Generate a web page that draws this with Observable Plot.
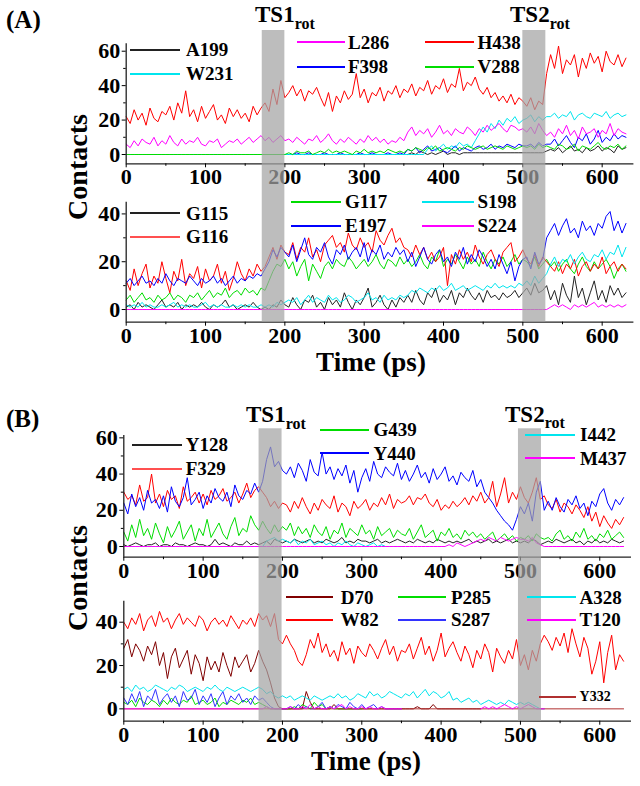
<!DOCTYPE html>
<html><head><meta charset="utf-8">
<script src="https://cdn.jsdelivr.net/npm/d3@7"></script>
<script src="https://cdn.jsdelivr.net/npm/@observablehq/plot@0.6"></script>
<style>
body{margin:0;background:#fff;}
#fig{position:relative;width:640px;height:786px;overflow:hidden;font-family:"Liberation Serif","Times New Roman",serif;font-weight:bold;color:#000;}
.abs{position:absolute;white-space:nowrap;line-height:1;}
.sw{position:absolute;height:2px;}
</style></head>
<body><div id="fig"></div>
<script>
// ---------- data (time step 5 ps, t = 0..630) ----------
const STEP = 5;
const xTicks = [0,100,200,300,400,500,600];
const xMinor = [50,150,250,350,450,550];
const bandsA = [[171.5,200],[500,529]];
const bandsB = [[170.5,199.5],[497.5,526.5]];

// Panel A, upper
const A199 = [
0,0,0,0,0,0,0,0,0,0,0,0,0,0,0,0,0,0,0,0,0,0,0,0,0,0,0,0,0,0,0,0,0,0,0,
0,0,0,0,0,0,
0,0,0,0,0,0,0,0,0,0,0,0,0,0,0,0,0,0,0,0,0,0,0,0,0,0,0,0,0,0,
0,1,0,2,1,0,1,0,1,2,0,1,1,0,1,1,1,1,1,1,1,1,1,1,1,1,1,1,1,1,
1,1,1,1,1,2,
3,2,4,1,3,5,2,3,1,4,2,3,5,2,4,3,1,5,3,4];
const W231 = [
0,0,0,0,0,0,0,0,0,0,0,0,0,0,0,0,0,0,0,0,0,0,0,0,0,0,0,0,0,0,0,0,0,0,0,
0,0,0,0,0,0,
0,0,0,0,0,0,0,0,0,0,0,0,0,0,0,0,0,0,0,0,0,0,0,0,0,0,0,0,0,0,
0,0,0,0,0,3,5,2,4,6,3,5,4,7,5,6,4,8,12,16,13,18,15,20,17,21,19,22,18,20,
21,23,19,22,20,22,
22,24,21,23,22,25,20,23,24,22,21,24,23,22,25,21,23,24,22,23];
const L286 = [
6,4,8,5,9,7,6,10,5,8,6,11,7,5,9,6,8,7,10,6,5,8,7,9,4,6,8,7,9,6,8,10,7,9,11,
8,10,7,9,11,8,
9,7,10,8,6,9,8,11,7,9,12,8,6,9,7,10,8,6,9,7,11,8,10,7,9,6,8,7,10,8,
13,16,11,14,12,15,10,13,17,12,14,11,15,13,12,16,14,11,15,13,17,14,16,18,15,13,17,16,14,15,
13,16,12,18,14,11,
13,10,15,12,17,11,14,9,16,12,13,15,10,14,12,18,11,15,13,12];
const H438 = [
22,18,26,20,24,17,27,21,19,25,23,28,20,30,24,37,22,26,19,28,21,25,29,20,23,18,27,22,26,21,24,19,28,23,27,
30,25,38,29,43,33,
36,40,34,38,31,37,35,39,33,28,36,25,34,30,37,32,35,47,33,38,30,36,34,39,31,37,35,40,33,38,
36,41,34,39,37,43,35,40,38,44,36,41,39,50,37,42,40,45,38,35,39,33,36,31,34,30,35,29,33,31,
28,33,26,31,29,47,
58,50,63,47,55,52,58,45,56,50,59,53,57,48,60,54,52,58,51,56];
const F398 = [
0,0,0,0,0,0,0,0,0,0,0,0,0,0,0,0,0,0,0,0,0,0,0,0,0,0,0,0,0,0,0,0,0,0,0,
0,0,0,0,0,0,
0,0,1,0,0,1,0,0,0,1,0,0,0,1,0,0,0,0,1,0,0,1,0,0,0,1,0,0,1,0,
3,2,4,1,3,5,2,3,4,2,1,3,5,2,4,3,2,4,5,3,4,6,3,5,4,6,5,4,6,5,
5,6,4,7,5,6,
6,9,5,8,11,7,4,10,8,12,6,9,14,7,10,8,12,9,11,10];
const V288 = [
0,0,0,0,0,0,0,0,0,0,0,0,0,0,0,0,0,0,0,0,0,0,0,0,0,0,0,0,0,0,0,0,0,0,0,
0,0,0,0,0,0,
1,0,2,1,1,2,0,1,2,1,3,1,2,1,2,1,0,2,1,3,1,2,1,2,1,3,2,1,2,1,
3,2,4,3,2,4,3,5,2,3,4,3,2,4,3,5,4,3,4,5,3,4,5,4,3,5,4,3,4,5,
4,5,3,6,4,5,
4,3,6,5,3,4,6,2,5,4,3,5,7,4,3,5,4,6,3,5];

// Panel A, lower
const G115 = [
1,2,0,3,1,2,1,0,2,4,1,2,1,3,0,2,1,2,1,3,1,0,2,1,2,4,1,2,0,1,2,1,3,1,0,
1,0,2,1,4,2,
1,5,2,0,4,3,6,1,3,0,5,2,4,1,7,3,0,4,2,5,9,1,3,6,2,0,4,1,5,3,
6,3,8,4,2,7,5,9,3,6,4,8,2,7,5,9,6,4,7,3,8,5,6,4,7,5,6,8,5,7,
9,6,11,7,8,10,
4,8,2,11,6,3,14,5,9,2,7,12,4,8,3,10,6,9,5,7];
const G116 = [
12,8,17,10,15,19,9,14,11,20,13,7,16,12,21,10,15,13,18,9,17,12,14,19,11,16,8,13,20,15,12,17,14,19,16,
18,22,26,21,27,24,
23,28,21,26,24,30,22,25,20,27,29,31,26,28,24,32,27,25,30,26,28,24,33,29,27,31,34,28,30,26,
25,22,27,23,26,21,24,20,22,26,10,23,19,25,21,24,20,27,22,19,23,25,21,18,24,26,28,20,22,25,
21,19,23,18,22,20,
18,16,20,15,19,17,21,14,18,20,16,19,17,22,15,18,20,16,19,17];
const G117 = [
4,6,3,5,7,4,5,3,6,4,5,7,4,6,5,3,6,5,7,4,6,8,5,7,6,9,5,7,8,6,9,7,8,6,9,
8,12,16,19,18,21,
17,20,14,18,21,12,19,16,13,18,20,17,21,19,18,22,20,17,19,21,18,20,23,19,17,21,20,18,22,19,
21,18,20,23,19,17,22,20,25,18,21,19,23,20,17,22,19,21,18,24,20,17,21,19,22,18,20,23,19,21,
20,18,22,17,19,21,
18,20,16,19,21,17,15,19,22,18,16,20,17,19,21,18,13,17,19,16];
const E197 = [
11,13,10,12,14,11,12,10,13,11,15,12,10,13,12,11,14,12,10,13,11,12,14,11,13,10,12,14,11,13,12,14,13,15,14,
17,20,25,22,26,24,
22,27,20,25,30,23,21,26,24,28,22,19,25,23,27,21,24,26,22,28,20,25,23,27,21,24,22,26,23,25,
20,24,18,22,26,21,19,23,25,20,22,18,24,21,26,19,23,20,25,22,18,21,17,23,19,15,20,12,18,21,
22,17,24,19,21,30,
33,36,31,35,38,32,34,30,37,33,35,31,36,34,39,41,33,37,32,36];
const S198 = [
2,1,2,1,3,1,2,1,1,2,1,2,3,1,2,1,2,1,1,2,3,1,2,1,2,1,1,2,1,2,1,2,1,1,2,
1,2,1,3,2,3,
4,3,5,2,4,6,3,5,4,3,6,4,5,3,4,6,5,3,4,5,7,4,5,3,6,4,5,4,6,5,
6,8,7,9,8,7,9,8,10,8,9,11,8,9,10,8,9,10,9,8,10,9,11,9,10,9,10,9,11,10,
12,10,14,11,13,15,
19,22,18,21,20,23,19,22,24,21,20,23,22,25,21,24,23,27,22,26];
const S224 = [
0,0,0,0,0,0,0,0,0,0,0,0,0,0,0,0,0,0,0,0,0,0,0,0,0,0,0,0,0,0,0,0,0,0,0,
0,0,0,0,0,0,
0,0,0,0,0,0,0,0,0,0,0,0,0,0,0,0,0,0,0,0,0,0,0,0,0,0,0,0,0,0,
0,0,0,0,0,0,0,0,0,0,0,0,0,0,0,0,0,0,0,0,0,0,0,0,0,0,0,0,0,0,
0,0,0,0,0,0,
1,2,1,2,1,0,2,1,2,1,2,3,1,2,1,2,1,2,1,2];

// Panel B, upper
const Y128 = [
1,0,1,2,1,0,1,1,2,0,1,1,0,2,1,1,0,1,2,1,1,0,1,4,1,2,1,0,2,1,1,3,1,2,1,
2,3,1,4,3,2,
3,2,4,3,2,3,4,2,3,2,4,3,2,3,5,2,3,2,4,3,3,2,3,4,2,3,2,3,4,3,
2,3,2,4,3,2,3,2,4,3,2,3,2,3,2,3,4,2,3,2,3,4,2,3,2,3,4,2,3,2,
3,2,4,3,1,2,
3,2,4,3,2,3,4,2,3,1,3,2,4,2,3,2,4,3,2,3];
const F329 = [
30,26,28,23,34,25,27,40,24,29,22,31,26,28,21,33,25,27,30,24,29,23,31,26,28,32,25,27,30,24,29,35,27,31,33,
30,27,22,25,21,24,
23,19,25,21,27,22,18,24,20,26,23,21,28,19,24,22,17,25,21,23,26,20,24,22,27,23,29,21,26,24,
25,28,23,27,26,29,24,22,26,20,23,21,25,22,24,27,23,28,25,30,24,27,36,22,29,38,24,30,26,33,
27,24,30,38,26,28,
23,21,26,19,24,22,18,23,20,16,22,14,19,11,17,13,10,15,12,16];
const G439 = [
8,3,12,5,15,6,10,4,13,7,2,11,5,9,14,4,8,12,3,10,6,15,5,9,13,7,4,11,16,6,10,8,17,12,9,
14,10,7,12,8,11,
9,13,6,11,7,10,5,12,8,6,11,4,9,7,13,5,10,8,6,12,7,9,4,11,6,8,10,5,9,7,
6,10,4,8,12,5,7,9,3,8,6,10,5,7,4,9,6,8,5,7,4,6,8,3,5,7,4,6,3,5,
4,6,3,7,5,4,
5,3,7,9,4,6,3,8,5,10,4,6,3,7,5,9,4,6,8,5];
const Y440 = [
24,18,29,22,27,20,31,24,26,21,28,19,33,25,22,27,38,23,26,30,21,28,24,32,27,25,30,22,34,28,26,31,29,35,30,
36,48,55,44,47,42,
40,44,38,46,42,36,48,41,39,52,40,44,37,43,39,45,35,42,30,38,43,36,47,40,38,44,41,39,46,37,
42,36,40,45,38,41,35,43,37,40,44,36,39,34,41,38,36,42,33,37,30,27,24,20,17,14,12,9,15,22,
18,24,14,30,36,20,
25,20,27,22,19,26,23,28,21,24,17,25,22,29,32,24,20,26,23,27];
const I442 = [
0,0,0,0,0,0,0,0,0,0,0,0,0,0,0,0,0,0,0,0,0,0,0,0,0,0,0,0,0,0,0,0,0,0,0,
0,3,4,5,3,4,
3,2,4,1,3,2,4,1,2,3,1,2,0,2,1,3,1,0,2,1,0,1,2,0,1,0,0,0,0,0];
const M437 = [
0,0,0,0,0,0,0,0,0,0,0,0,0,0,0,0,0,0,0,0,0,0,0,0,0,0,0,0,0,0,0,0,0,0,0,
0,0,0,0,0,0,
0,0,0,0,0,0,0,0,0,0,0,0,0,0,0,0,0,0,0,0,0,0,0,0,0,0,0,0,0,0,
0,0,0,0,0,0,0,0,0,0,0,1,0,2,1,0,1,2,3,4,3,5,4,3,5,4,3,4,5,4,
4,3,5,2,1,0,
0,0,0,0,0,0,0,0,0,0,0,0,0,0,0,0,0,0,0,0];

// Panel B, lower
const D70 = [
28,32,24,30,27,22,29,25,31,20,26,14,24,28,19,23,27,16,25,21,13,24,18,22,17,26,20,15,24,19,22,25,17,21,27,
22,18,12,5,1,0,
0,0,0,0,0,8,3,0,0,0,0,0,2,0,0,0,0,0,0,0,0,0,0,0,0,0,0,0,0,0,
0,0,0,1,0,0,0,2,0,0,0,0,0,0,0,0,0,0,0,0];
const W82 = [
40,37,42,39,44,36,41,43,38,45,40,42,37,41,44,39,42,40,38,43,41,36,40,42,39,41,38,43,40,37,41,39,42,38,44,
41,43,38,44,32,30,
34,30,27,22,20,25,32,28,35,26,30,24,27,22,31,25,28,21,29,26,24,30,27,23,28,32,25,29,22,27,
26,30,23,28,33,25,29,22,27,35,24,28,31,26,22,29,25,19,27,23,30,26,17,28,24,21,27,23,32,20,
25,18,27,22,30,34,
31,27,33,29,35,26,37,30,24,33,28,16,22,31,12,26,34,18,25,22];
const P285 = [
3,2,4,1,5,3,2,4,3,1,4,2,5,3,2,4,3,6,2,3,4,2,3,5,1,3,2,4,3,2,4,3,5,2,3,
2,1,0,0,0,0,
0,0,1,0,2,1,0,3,1,2,0,1,0,0,0,0,0,0,0,0];
const S287 = [
5,2,7,3,8,1,6,4,9,2,5,7,3,6,1,8,4,5,9,2,6,3,7,1,5,8,2,6,4,7,3,5,2,6,4,
5,3,1,0,0,0,
0,1,0,2,0,1,0,0,1,3,0,1,0,2,1,0,3,1,0,2,0,1,2,0,1,0,0,0,0,0];
const A328 = [
9,10,8,11,9,10,8,9,11,10,9,8,10,9,11,10,8,9,10,9,8,10,9,11,9,8,10,9,8,9,10,9,8,9,10,
9,7,8,6,5,6,
5,6,4,5,6,5,4,6,5,4,5,6,5,7,5,6,4,5,7,6,5,8,6,7,5,6,8,7,6,5,
7,6,8,5,7,9,6,8,7,5,6,8,4,5,3,4,5,3,4,2,3,4,3,2,3,2,4,3,2,3,
2,3,2,1,0,0];
const T120 = [
0,0,0,0,0,0,0,0,0,0,0,0,0,0,0,0,0,0,0,0,0,0,0,0,0,0,0,0,0,0,0,0,0,0,0,
0,1,0,0,0,0,
0,1,0,0,1,0,2,0,1,0,0,1,0,1,2,0,1,0,0,1,0,1,0,0,1,0,0,0,0,0,
null,null,null,null,null,null,null,null,null,null,null,null,null,null,null,null,null,null,null,0,1,0,1,0,1,2,1,0,1,0,
1,2,1,0,0,0];
const Y332Time = [0,630];
const Y332 = [0,0];

// ---------- layout ----------
const panels = [
  {id:"A1", top:0,   h:190, mt:43.3, mb:26.7, ml:125.7, mr:6.6, dom:[-5.4,64.3], yTicks:[0,20,40,60], yMinor:[10,30,50], bandTop:30, bandBottom:190, bands:bandsA,
   series:[["A199",A199,"#222"],["F398",F398,"#0000ff"],["W231",W231,"#00e5ee"],["L286",L286,"#ff00ff"],["V288",V288,"#00dd00"],["H438",H438,"#ff0000"]]},
  {id:"A2", top:190, h:200, mt:11.7, mb:68.3, ml:125.7, mr:6.6, dom:[-5.3,44.9], yTicks:[0,20,40], yMinor:[10,30], bandTop:0, bandBottom:131.7, bands:bandsA,
   series:[["G115",G115,"#222"],["G117",G117,"#00dd00"],["G116",G116,"#ff0000"],["E197",E197,"#0000ff"],["S198",S198,"#00e5ee"],["S224",S224,"#ff00ff"]]},
  {id:"B1", top:400, h:190, mt:35, mb:33.3, ml:123.3, mr:9, dom:[-5.9,61.3], yTicks:[0,20,40,60], yMinor:[10,30,50], bandTop:28.3, bandBottom:190, bands:bandsB,
   series:[["Y128",Y128,"#222"],["G439",G439,"#00dd00"],["F329",F329,"#ff0000"],["Y440",Y440,"#0000ff"],["I442",I442,"#00e5ee"],["M437",M437,"#ff00ff"]]},
  {id:"B2", top:590, h:196, mt:10.7, mb:65.3, ml:123.3, mr:9, dom:[-5.7,49.7], yTicks:[0,20,40], yMinor:[10,30], bandTop:0, bandBottom:130.7, bands:bandsB,
   series:[["D70",D70,"#800000"],["W82",W82,"#ff0000"],["P285",P285,"#00dd00"],["S287",S287,"#3333ff"],["A328",A328,"#00e5ee"],["Y332",Y332,"#b03030",Y332Time],["T120",T120,"#ff00ff"]]}
];

const legends = [
  ["A199","#222",130,180,50,186],["W231","#00e5ee",130,180,74,186],
  ["L286","#ff00ff",297,345,42.3,348],["F398","#0000ff",297,345,66.7,348],
  ["H438","#ff0000",424.5,473.5,42.3,477.5],["V288","#00dd00",424.5,473.5,66.7,477.5],
  ["G115","#222",130,180,213.3,186],["G116","#ff5050",130,180,236.7,186],
  ["G117","#00dd00",290.6,341,201.7,345],["E197","#0000ff",290.6,341,226,345],
  ["S198","#00e5ee",422,473.5,201.7,477.5],["S224","#ff00ff",422,473.5,226,477.5],
  ["Y128","#222",132,181.6,444.8,185.7],["F329","#ff5050",132,181.6,468.8,185.7],
  ["G439","#00dd00",320,369,430,373.5],["Y440","#0000ff",320,369,453.3,373.5],
  ["I442","#00e5ee",525,575,435,580],["M437","#ff00ff",525,575,458.3,580],
  ["D70","#800000",285.7,332.7,597.3,340.8],["W82","#ff0000",285.7,332.7,620,340.8],
  ["P285","#00dd00",398,445.7,597.3,451],["S287","#3333ff",398,445.7,620,451],
  ["A328","#00e5ee",526.5,575.5,597.3,579.6],["T120","#ff00ff",526.5,575.5,620,579.6],
  ["Y332","#b03030",538.8,575.5,696.7,579.6,14]
];

const fig = document.getElementById("fig");

function makePanel(p) {
  const {h, mt, mb, dom} = p;
  const inv = py => dom[1] - (py - mt) / (h - mt - mb) * (dom[1] - dom[0]);
  const marks = [];
  for (const [name, vals, color, times] of p.series) {
    const data = vals.map((v, i) => ({t: times ? times[i] : i * STEP, v}));
    marks.push(Plot.line(data, {x: "t", y: "v", stroke: color, strokeWidth: 1}));
  }
  marks.push(Plot.ruleY([dom[0]], {stroke: "#222", strokeWidth: 1.3}));
  marks.push(Plot.ruleX([0], {stroke: "#222", strokeWidth: 1.3}));
  marks.push(Plot.axisX({ticks: xTicks, tickSize: 4, tickPadding: 1, label: null, fontSize: 22, fontWeight: "bold"}));
  marks.push(Plot.axisX({ticks: xMinor, tickSize: 2.5, tickFormat: () => "", label: null}));
  marks.push(Plot.axisY({ticks: p.yTicks, tickSize: 4, tickPadding: 2, label: null, fontSize: 22, fontWeight: "bold"}));
  marks.push(Plot.axisY({ticks: p.yMinor, tickSize: 2.5, tickFormat: () => "", label: null}));
  marks.push(Plot.rect(p.bands, {x1: d => d[0], x2: d => d[1], y1: () => inv(p.bandBottom), y2: () => inv(p.bandTop), fill: "#a4a4a4", fillOpacity: 0.72}));
  const svg = Plot.plot({
    width: 640, height: h, marginTop: mt, marginBottom: mb, marginLeft: p.ml, marginRight: p.mr,
    x: {domain: [0, 640], label: null},
    y: {domain: dom, label: null},
    style: {fontFamily: '"Liberation Serif","Times New Roman",serif', fontSize: "22px", fontWeight: "bold", background: "transparent", color: "#000", overflow: "visible"},
    marks
  });
  svg.style.position = "absolute";
  svg.style.left = "0px";
  svg.style.top = p.top + "px";
  fig.appendChild(svg);
}
panels.forEach(makePanel);

// legends (drawn above the plots)
for (const [name,color,x1,x2,y,tx,fs] of legends) {
  const sw = document.createElement("div");
  sw.className = "sw";
  sw.style.cssText += `left:${Math.round(x1)}px;width:${Math.round(x2-x1)}px;top:${Math.round(y-1)}px;background:${color};`;
  fig.appendChild(sw);
  const tx_ = document.createElement("div");
  tx_.className = "abs";
  const f = fs || 19;
  tx_.style.cssText += `left:${tx}px;top:${y - 0.51*f}px;font-size:${f}px;`;
  tx_.textContent = name;
  fig.appendChild(tx_);
}

// texts
function addText(html, css) {
  const d = document.createElement("div");
  d.className = "abs";
  d.style.cssText += css;
  d.innerHTML = html;
  fig.appendChild(d);
}
addText("(A)", "left:6px;top:7px;font-size:25px;");
addText("(B)", "left:6px;top:406px;font-size:25px;");
addText('TS1<span style="font-size:16px;vertical-align:-7px">rot</span>', "left:255px;top:2.5px;font-size:23px;");
addText('TS2<span style="font-size:16px;vertical-align:-7px">rot</span>', "left:510px;top:2.5px;font-size:23px;");
addText('TS1<span style="font-size:16px;vertical-align:-7px">rot</span>', "left:246px;top:403px;font-size:23px;");
addText('TS2<span style="font-size:16px;vertical-align:-6px">rot</span>', "left:505px;top:402.5px;font-size:23px;");
addText("Contacts", "left:78px;top:167px;font-size:28px;transform:translate(-50%,-50%) rotate(-90deg);");
addText("Contacts", "left:78px;top:578px;font-size:28px;transform:translate(-50%,-50%) rotate(-90deg);");
addText("Time (ps)", "left:371px;top:353.4px;font-size:27px;line-height:0.7;transform:translateX(-50%);");
addText("Time (ps)", "left:366px;top:751.9px;font-size:27px;line-height:0.7;transform:translateX(-50%);");
</script>
</body></html>
